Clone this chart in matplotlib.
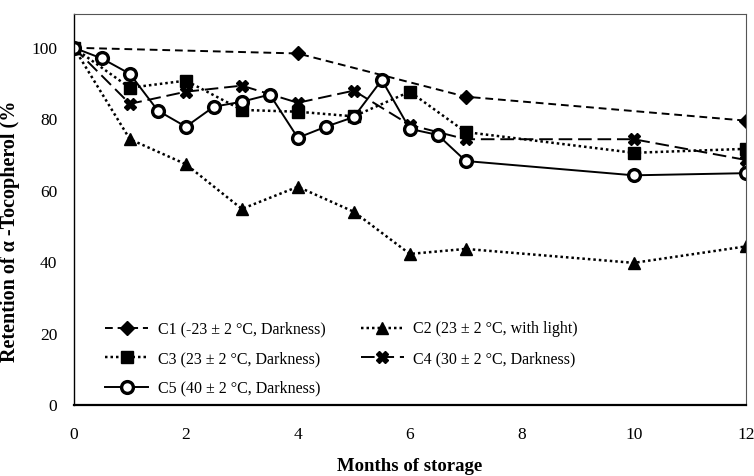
import matplotlib
matplotlib.use("Agg")
import matplotlib.pyplot as plt

plt.rcParams["font.family"] = ["Liberation Serif", "DejaVu Serif"]

# months of storage
x_c1 = [0, 4, 7, 12]
c1 = [100, 98.4, 86.3, 79.6]

x_c2 = [0, 1, 2, 3, 4, 5, 6, 7, 10, 12]
c2 = [100, 74.4, 67.4, 54.9, 61.1, 54.1, 42.3, 43.7, 39.8, 44.4]

x_c3 = [0, 1, 2, 3, 4, 5, 6, 7, 10, 12]
c3 = [100, 88.8, 90.8, 82.6, 82.1, 80.8, 87.7, 76.4, 70.6, 71.7]

x_c4 = [0, 1, 2, 3, 4, 5, 6, 7, 10, 12]
c4 = [100, 84.3, 87.7, 89.4, 84.6, 88.0, 78.4, 74.4, 74.4, 68.6]

x_c5 = [0, 0.5, 1, 1.5, 2, 2.5, 3, 3.5, 4, 4.5, 5, 5.5, 6, 6.5, 7, 10, 12]
c5 = [100, 97.0, 92.7, 82.4, 77.9, 83.5, 84.9, 86.9, 74.8, 77.9, 80.6,
      91.0, 77.3, 75.6, 68.3, 64.3, 64.9]

labels = ["C1 (-23 ± 2 °C, Darkness)", "C2 (23 ± 2 °C, with light)",
          "C3 (23 ± 2 °C, Darkness)", "C4 (30 ± 2 °C, Darkness)",
          "C5 (40 ± 2 °C, Darkness)"]

fig = plt.figure(figsize=(7.54, 4.76), dpi=100)
ax = fig.add_axes([0.098, 0.149, 0.891, 0.822])

lw = 1.4
h1, = ax.plot(x_c1, c1, color="black", lw=lw, ls=(0, (4, 2.5)),
              marker="D", ms=7.5, label=labels[0])
h2, = ax.plot(x_c2, c2, color="black", lw=lw + 0.4, ls=(0, (1, 1.2)),
              marker="^", ms=9, label=labels[1])
h3, = ax.plot(x_c3, c3, color="black", lw=lw + 0.4, ls=(0, (1, 1.2)),
              marker="s", ms=8.5, label=labels[2])
h4, = ax.plot(x_c4, c4, color="black", lw=lw, ls=(0, (7, 3)),
              marker="X", ms=8.5, mec="black", mfc="black", label=labels[3])
h5, = ax.plot(x_c5, c5, color="black", lw=lw, ls="-",
              marker="o", ms=8.5, mfc="white", mec="black", mew=2.4,
              label=labels[4])

ax.set_xlim(0, 12)
ax.set_ylim(0, 109.5)
ax.set_xticks(range(0, 13, 2))
ax.set_yticks(range(0, 101, 20))
ax.tick_params(length=0, labelsize=12.5)
ax.tick_params(axis="x", pad=16)
ax.tick_params(axis="y", pad=12)

for s in ["top", "right"]:
    ax.spines[s].set_color("#555555")
    ax.spines[s].set_linewidth(0.8)
ax.spines["left"].set_linewidth(1.0)
ax.spines["bottom"].set_linewidth(1.6)

ax.set_xlabel("Months of storage", fontsize=13.5, fontweight="bold", labelpad=10.5)
ax.set_ylabel("Retention of α -Tocopherol (%", fontsize=14.5, fontweight="bold")
ax.yaxis.set_label_coords(-0.08, 0.445)

ax.legend([h1, h3, h5, h2, h4], [labels[0], labels[2], labels[4], labels[1], labels[3]],
          ncol=2, frameon=False, loc="lower left", bbox_to_anchor=(0.025, -0.015),
          fontsize=11.5, handlelength=2.7, handletextpad=0.6,
          columnspacing=2.2, labelspacing=0.85)

fig.savefig("out.png", dpi=100)
